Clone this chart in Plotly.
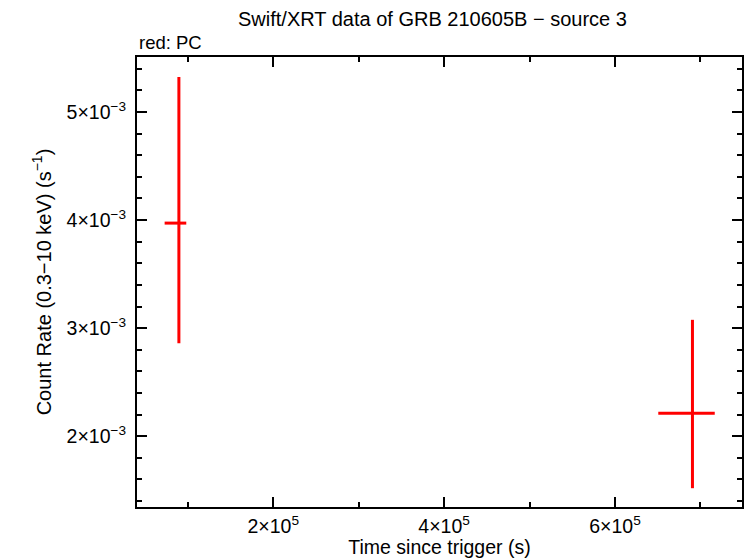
import plotly.graph_objects as go

# Data
time_s = [89530, 690700]
time_err_minus = [16690, 40000]
time_err_plus = [8640, 26100]
rate = [3.972e-3, 2.213e-3]
rate_err_plus = [1.352e-3, 0.864e-3]
rate_err_minus = [1.111e-3, 0.694e-3]

x_tickvals = [2e5, 4e5, 6e5]
x_ticktext = ["2×10<sup>5</sup>", "4×10<sup>5</sup>", "6×10<sup>5</sup>"]
y_tickvals = [2e-3, 3e-3, 4e-3, 5e-3]
y_ticktext = ["2×10<sup>−3</sup>", "3×10<sup>−3</sup>", "4×10<sup>−3</sup>", "5×10<sup>−3</sup>"]

FONT = "Liberation Sans, Arial, sans-serif"
RED = "#ff0000"

fig = go.Figure()
fig.add_trace(go.Scatter(
    x=time_s, y=rate, mode="markers",
    marker=dict(size=0.1, color=RED, opacity=0),
    error_x=dict(type="data", symmetric=False, array=time_err_plus,
                 arrayminus=time_err_minus, color=RED, thickness=3, width=0),
    error_y=dict(type="data", symmetric=False, array=rate_err_plus,
                 arrayminus=rate_err_minus, color=RED, thickness=3, width=0),
    showlegend=False, hoverinfo="skip",
))

axis_common = dict(
    showline=True, linecolor="black", linewidth=2, mirror="allticks",
    ticks="inside", ticklen=10, tickwidth=2, tickcolor="black",
    showgrid=False, zeroline=False,
    tickfont=dict(family=FONT, size=19.5, color="black"),
)

fig.update_xaxes(
    range=[40500, 748700],
    tickvals=x_tickvals, ticktext=x_ticktext,
    minor=dict(ticks="inside", ticklen=5, tickwidth=2, tickcolor="black", dtick=1e5, tick0=0),
    title=dict(text="Time since trigger (s)", font=dict(family=FONT, size=19.5, color="black"), standoff=1),
    ticklabelstandoff=1,
    **axis_common,
)
fig.update_yaxes(
    range=[1.345e-3, 5.509e-3],
    tickvals=y_tickvals, ticktext=y_ticktext,
    minor=dict(ticks="inside", ticklen=5, tickwidth=2, tickcolor="black", dtick=2e-4, tick0=0),
    title=dict(text="Count Rate (0.3−10 keV) (s<sup>−1</sup>)", font=dict(family=FONT, size=20, color="black"), standoff=10),
    ticklabelstandoff=5,
    **axis_common,
)

fig.update_layout(
    width=746, height=558,
    margin=dict(l=137, r=2, t=57, b=51),
    paper_bgcolor="white", plot_bgcolor="white",
    font=dict(family=FONT, color="black"),
    annotations=[
        dict(text="Swift/XRT data of GRB 210605B − source 3", xref="paper", yref="paper",
             x=0.489, y=1.0, yshift=38, xanchor="center", yanchor="middle", showarrow=False,
             font=dict(family=FONT, size=20, color="black")),
        dict(text="red: PC", xref="paper", yref="paper", x=0, y=1.0, yshift=15,
             xanchor="left", yanchor="middle", showarrow=False,
             font=dict(family=FONT, size=18.5, color="black")),
    ],
)

fig.write_html("out.html", config={"displayModeBar": False},
               post_script="document.body.style.margin='0';document.body.style.overflow='hidden';")
